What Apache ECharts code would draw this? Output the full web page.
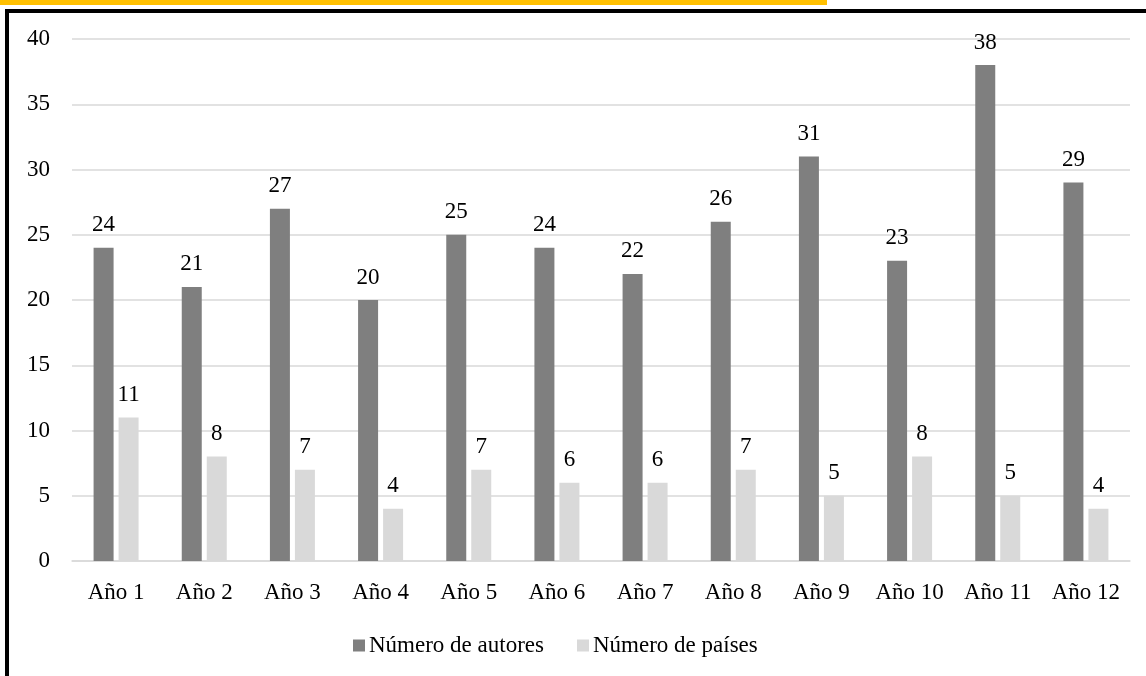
<!DOCTYPE html>
<html>
<head>
<meta charset="utf-8">
<script src="https://cdn.jsdelivr.net/npm/echarts@6/dist/echarts.min.js"></script>
<style>
	html, body { margin: 0; padding: 0; background: #fff; }
	#main { position: absolute; left: 0; top: 0; width: 1146px; height: 676px; }
	#strip { position: absolute; left: 0; top: 0; width: 827px; height: 5px; background: #ffc000; }
	#frame { position: absolute; left: 5px; top: 9px; width: 1141px; height: 667px;
		border-top: 4px solid #000; border-left: 4px solid #000; box-sizing: border-box; pointer-events: none; }
</style>
</head>
<body>
<div id="main"></div>
<div id="strip"></div>
<div id="frame"></div>
<script>
//autores y países por año
var years = ['Año 1', 'Año 2', 'Año 3', 'Año 4', 'Año 5', 'Año 6', 'Año 7', 'Año 8', 'Año 9', 'Año 10', 'Año 11', 'Año 12'];
var autores = [24, 21, 27, 20, 25, 24, 22, 26, 31, 23, 38, 29];
var paises = [11, 8, 7, 4, 7, 6, 6, 7, 5, 8, 5, 4];

var font = '"Liberation Serif", "DejaVu Serif", serif';
var fs = 23;
var myChart = echarts.init(document.getElementById('main'));
var option = {
	backgroundColor: '#fff',
	animation: false,
	textStyle: { fontFamily: font },
	grid: {
		left: 72,
		right: 16,
		top: 39,
		bottom: 115
	},
	legend: {
		bottom: 14,
		left: 348,
		itemWidth: 12,
		itemHeight: 12,
		itemGap: 33,
		icon: 'rect',
		textStyle: { color: '#000', fontSize: fs, fontFamily: font, padding: [0, 0, 0, -1] },
		data: ['Número de autores', 'Número de países']
	},
	xAxis: [{
		type: 'category',
		data: years,
		axisLine: { lineStyle: { color: '#d9d9d9', width: 1.5 } },
		axisTick: { show: false },
		axisLabel: { color: '#000', fontSize: fs, margin: 20, interval: 0, fontFamily: font }
	}],
	yAxis: [{
		type: 'value',
		min: 0,
		max: 40,
		interval: 5,
		axisLine: { show: false },
		axisTick: { show: false },
		splitLine: { lineStyle: { color: '#d9d9d9', width: 1.5 } },
		axisLabel: { color: '#000', fontSize: fs, margin: 22, fontFamily: font }
	}],
	series: [{
		name: 'Número de autores',
		type: 'bar',
		barWidth: 20,
		barGap: '25%',
		itemStyle: { color: '#7f7f7f' },
		label: { show: true, position: 'top', distance: 11, color: '#000', fontSize: fs, fontFamily: font },
		data: autores
	}, {
		name: 'Número de países',
		type: 'bar',
		barWidth: 20,
		itemStyle: { color: '#d9d9d9' },
		label: { show: true, position: 'top', distance: 11, color: '#000', fontSize: fs, fontFamily: font },
		data: paises
	}]
};
myChart.setOption(option, true);
</script>
</body>
</html>
